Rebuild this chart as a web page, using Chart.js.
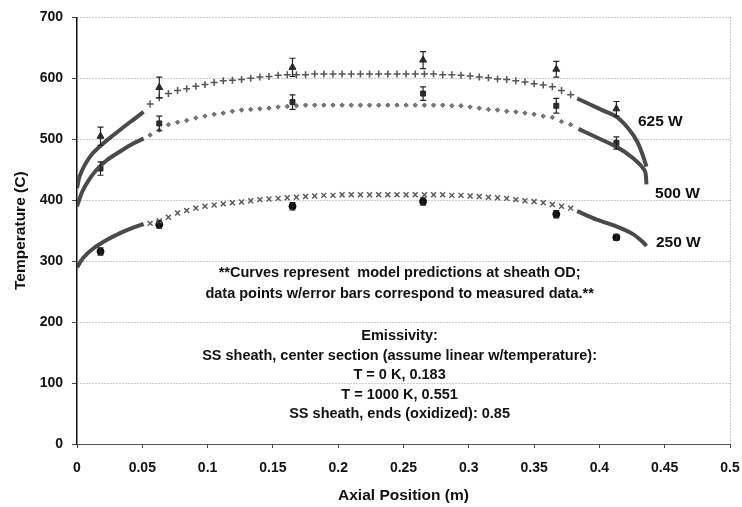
<!DOCTYPE html>
<html>
<head>
<meta charset="utf-8">
<script src="https://cdn.jsdelivr.net/npm/chart.js@4.4.1/dist/chart.umd.min.js"></script>
<style>
    html, body { margin: 0; padding: 0; background: #ffffff; }
    #wrap { width: 742px; height: 507px; }
</style>
</head>
<body>
<div id="wrap"><canvas id="myChart" width="742" height="507"></canvas></div>
<script>
// tick labels
var xTickLabels = ['0', '0.05', '0.1', '0.15', '0.2', '0.25', '0.3', '0.35', '0.4', '0.45', '0.5'];
var yTickLabels = ['0', '100', '200', '300', '400', '500', '600', '700'];

// model curve, centre section (dotted markers)
var xMid = [0.056, 0.063, 0.070, 0.077, 0.084, 0.091, 0.098, 0.105, 0.112, 0.119,
    0.126, 0.133, 0.140, 0.147, 0.154, 0.161, 0.168, 0.175, 0.182, 0.189,
    0.196, 0.203, 0.210, 0.217, 0.224, 0.231, 0.238, 0.245, 0.252, 0.259,
    0.266, 0.273, 0.280, 0.287, 0.294, 0.301, 0.308, 0.315, 0.322, 0.329,
    0.336, 0.343, 0.350, 0.357, 0.364, 0.371, 0.378];
var mid625 = [558, 568, 575, 580, 583, 587, 590, 593, 596, 597,
    598, 600, 602, 603, 605, 606, 606, 606, 607, 607,
    607, 607, 607, 607, 607, 607, 607, 607, 607, 607,
    607, 607, 606, 606, 605, 604, 602, 601, 599, 598,
    596, 594, 591, 589, 586, 580, 573];
var mid500 = [507, 515, 524, 528, 531, 535, 538, 541, 543, 546,
    548, 549, 550, 551, 553, 554, 555, 556, 556, 556,
    556, 556, 556, 556, 556, 556, 556, 556, 556, 556,
    556, 556, 556, 555, 555, 553, 551, 549, 548, 546,
    545, 543, 541, 538, 536, 529, 524];
var mid250 = [362, 366, 372, 379, 383, 387, 390, 392, 394, 396,
    397, 399, 401, 402, 403, 404, 405, 406, 407, 408,
    408, 409, 409, 409, 409, 409, 409, 409, 409, 409,
    409, 409, 409, 408, 408, 407, 406, 405, 404, 403,
    401, 399, 398, 396, 393, 390, 387];

// model curve, ends (solid)
var xLeft625 = [0, 0.002, 0.006, 0.012, 0.020, 0.028, 0.035, 0.043, 0.051];
var left625 = [420, 439, 458, 477, 493, 507, 519, 532, 545];
var xLeft500 = [0, 0.004, 0.009, 0.015, 0.023, 0.033, 0.043, 0.051];
var left500 = [390, 414, 433, 450, 466, 480, 493, 501];
var xLeft250 = [0, 0.005, 0.012, 0.023, 0.033, 0.043, 0.051];
var left250 = [290, 306, 320, 335, 346, 355, 361];

var xRight625 = [0.383, 0.393, 0.403, 0.413, 0.422, 0.429, 0.434, 0.436];
var right625 = [567, 557, 547, 537, 518, 496, 469, 455];
var xRight500 = [0.384, 0.394, 0.403, 0.411, 0.421, 0.430, 0.435, 0.436];
var right500 = [517, 507, 498, 490, 477, 461, 447, 426];
var xRight250 = [0.383, 0.398, 0.413, 0.426, 0.434, 0.436];
var right250 = [382, 368, 357, 344, 330, 325];

// measured data with error bars
var xMeas = [0.018, 0.063, 0.165, 0.265, 0.367, 0.413];
var meas625 = [505, 585, 618, 630, 615, 550];
var err625 = [15, 17, 15, 14, 13, 12];
var meas500 = [452, 526, 561, 575, 555, 494];
var err500 = [11, 12, 12, 11, 12, 10];
var meas250 = [316, 360, 390, 398, 377, 339];
var err250 = [6, 6, 6, 6, 6, 5];

var noteLines = [
    '**Curves represent  model predictions at sheath OD;',
    'data points w/error bars correspond to measured data.**',
    'Emissivity:',
    'SS sheath, center section (assume linear w/temperature):',
    'T = 0 K, 0.183',
    'T = 1000 K, 0.551',
    'SS sheath, ends (oxidized): 0.85'
];
var noteY = [281, 246, 178, 145, 113, 80, 49];

var seriesLabels = ['625 W', '500 W', '250 W'];
var labelX = [0.4295, 0.4426, 0.4433];
var labelY = [529, 411, 331];

function pts(xs, ys) {
    return xs.map(function (x, i) { return { x: x, y: ys[i] }; });
}

var fontFam = '"Liberation Sans", Arial, sans-serif';

var errorBars = {
    id: 'errorBars',
    afterDatasetsDraw: function (chart) {
        var ctx = chart.ctx;
        var xs = chart.scales.x, ys = chart.scales.y;
        var sets = [[meas625, err625], [meas500, err500], [meas250, err250]];
        ctx.save();
        ctx.strokeStyle = '#222';
        ctx.lineWidth = 1.2;
        sets.forEach(function (s) {
            for (var i = 0; i < xMeas.length; i++) {
                var px = xs.getPixelForValue(xMeas[i]);
                var top = ys.getPixelForValue(s[0][i] + s[1][i]);
                var bot = ys.getPixelForValue(s[0][i] - s[1][i]);
                ctx.beginPath();
                ctx.moveTo(px, top); ctx.lineTo(px, bot);
                ctx.moveTo(px - 3, top); ctx.lineTo(px + 3, top);
                ctx.moveTo(px - 3, bot); ctx.lineTo(px + 3, bot);
                ctx.stroke();
            }
        });
        ctx.restore();
    }
};

var textBits = {
    id: 'textBits',
    afterDraw: function (chart) {
        var ctx = chart.ctx;
        var xs = chart.scales.x, ys = chart.scales.y;
        var area = chart.chartArea;
        ctx.save();
        // dotted right border
        ctx.strokeStyle = '#999';
        ctx.setLineDash([1, 2]);
        ctx.beginPath();
        ctx.moveTo(area.right + 0.5, area.top);
        ctx.lineTo(area.right + 0.5, area.bottom);
        ctx.stroke();
        ctx.setLineDash([]);

        ctx.fillStyle = '#111';
        ctx.textBaseline = 'middle';
        ctx.font = 'bold 14.5px ' + fontFam;
        ctx.textAlign = 'center';
        var cx = xs.getPixelForValue(0.247);
        for (var i = 0; i < noteLines.length; i++) {
            ctx.fillText(noteLines[i], cx, ys.getPixelForValue(noteY[i]));
        }
        ctx.textAlign = 'left';
        ctx.font = 'bold 15.5px ' + fontFam;
        for (var j = 0; j < seriesLabels.length; j++) {
            ctx.fillText(seriesLabels[j], xs.getPixelForValue(labelX[j]), ys.getPixelForValue(labelY[j]));
        }
        ctx.restore();
    }
};

var solid = { showLine: true, borderColor: '#4a4a4a', borderWidth: 4, pointRadius: 0, tension: 0.3 };

var ctx = document.getElementById('myChart');
new Chart(ctx, {
    type: 'scatter',
    data: {
        datasets: [
            Object.assign({ data: pts(xLeft625, left625) }, solid),
            Object.assign({ data: pts(xLeft500, left500) }, solid),
            Object.assign({ data: pts(xLeft250, left250) }, solid),
            Object.assign({ data: pts(xRight625, right625) }, solid),
            Object.assign({ data: pts(xRight500, right500) }, solid),
            Object.assign({ data: pts(xRight250, right250) }, solid),
            {
                data: pts(xMid, mid625), pointStyle: 'cross', pointRadius: 3.5,
                borderColor: '#555', borderWidth: 1.5, backgroundColor: '#555'
            },
            {
                data: pts(xMid, mid500), pointStyle: 'rectRot', pointRadius: 2.2,
                borderColor: '#666', borderWidth: 1, backgroundColor: '#777'
            },
            {
                data: pts(xMid, mid250), pointStyle: 'crossRot', pointRadius: 3.5,
                borderColor: '#555', borderWidth: 1.4, backgroundColor: '#555'
            },
            {
                data: pts(xMeas, meas625), pointStyle: 'triangle', pointRadius: 4,
                borderColor: '#222', backgroundColor: '#333'
            },
            {
                data: pts(xMeas, meas500), pointStyle: 'rect', pointRadius: 3.5,
                borderColor: '#222', backgroundColor: '#333'
            },
            {
                data: pts(xMeas, meas250), pointStyle: 'circle', pointRadius: 3.5,
                borderColor: '#000', backgroundColor: '#111'
            }
        ]
    },
    options: {
        responsive: false,
        animation: false,
        events: [],
        layout: { padding: { left: 0, right: 12, top: 15, bottom: 0 } },
        plugins: {
            legend: { display: false },
            tooltip: { enabled: false }
        },
        scales: {
            x: {
                type: 'linear',
                min: 0,
                max: 0.5,
                afterFit: function (scale) {
                    scale.height = 63;
                    // let the last tick label hang past the plot edge
                    scale.paddingRight = 0;
                    scale.paddingLeft = 0;
                },
                ticks: {
                    stepSize: 0.05,
                    padding: 12,
                    color: '#111',
                    font: { family: fontFam, size: 14, weight: 'bold' },
                    callback: function (value, index) { return xTickLabels[index]; }
                },
                grid: { drawOnChartArea: false, tickLength: 4, color: '#444' },
                border: { color: '#555', width: 1 },
                title: {
                    display: true,
                    text: 'Axial Position (m)',
                    color: '#111',
                    font: { family: fontFam, size: 15.5, weight: 'bold' },
                    padding: { top: 0, bottom: 2 }
                }
            },
            y: {
                min: 0,
                max: 700,
                afterFit: function (scale) { scale.width = 77; },
                ticks: {
                    stepSize: 100,
                    padding: 9,
                    color: '#111',
                    font: { family: fontFam, size: 14, weight: 'bold' },
                    callback: function (value, index) { return yTickLabels[index]; }
                },
                grid: { color: '#9a9a9a', lineWidth: 1, tickLength: 5, tickColor: '#444' },
                border: { color: '#111', width: 1.5, dash: [1, 2] },
                title: {
                    display: true,
                    text: 'Temperature (C)',
                    color: '#111',
                    font: { family: fontFam, size: 15.5, weight: 'bold' },
                    padding: { top: 11, bottom: 0 }
                }
            }
        }
    },
    plugins: [errorBars, textBits]
});
</script>
</body>
</html>
